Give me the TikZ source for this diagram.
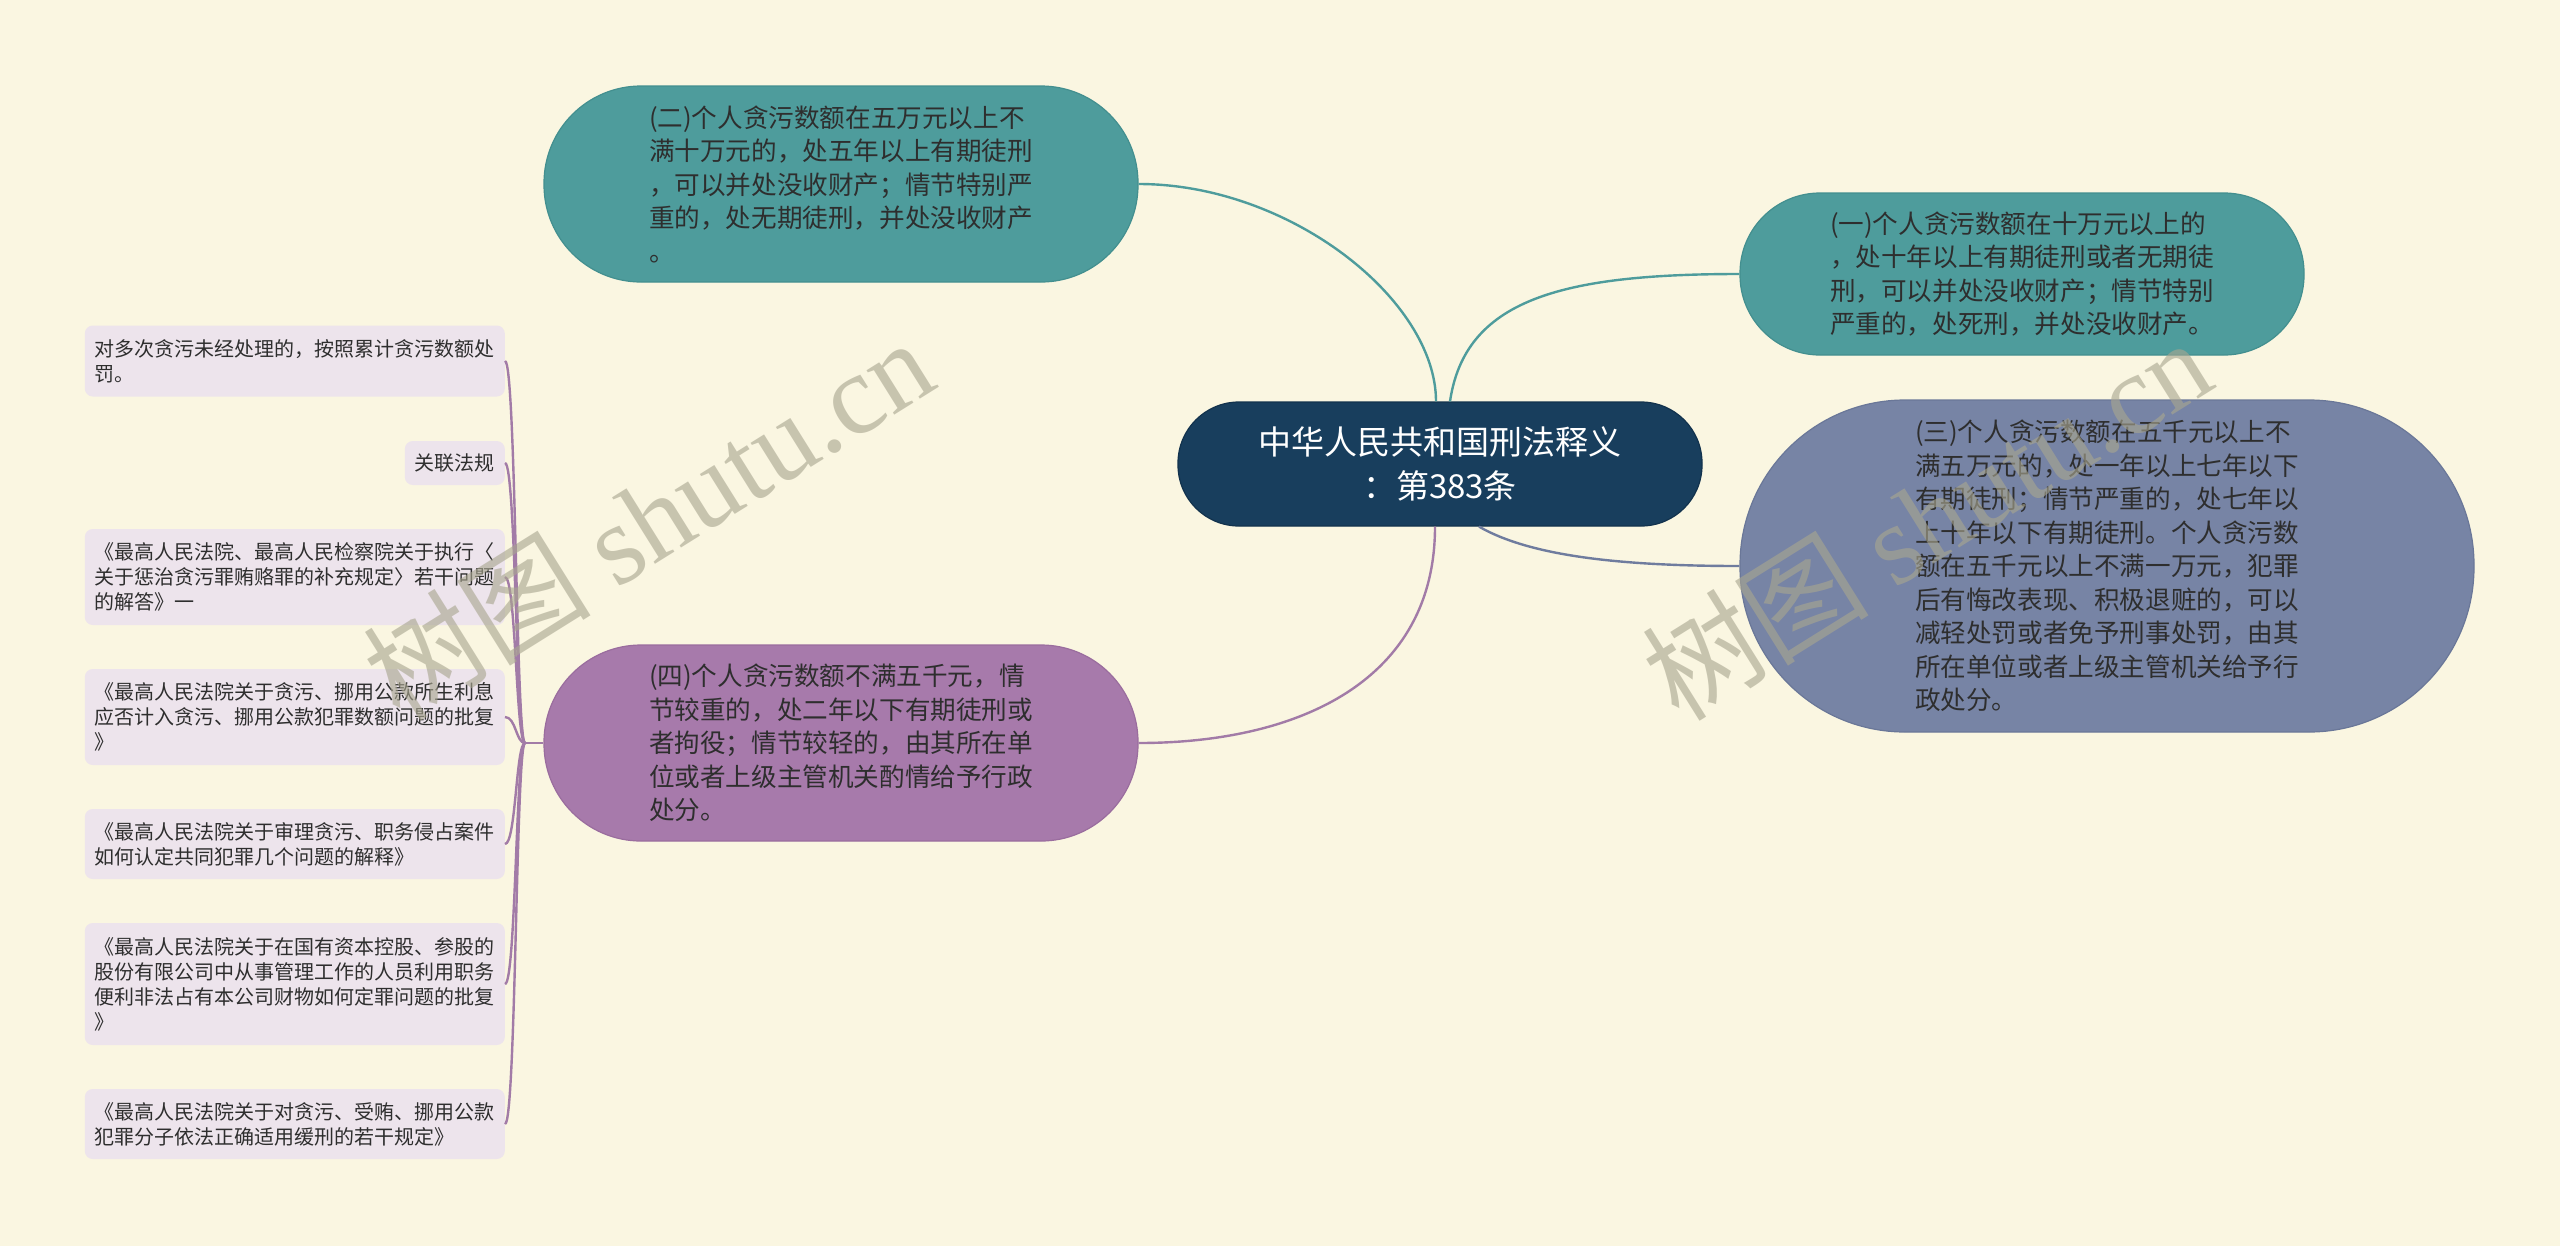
\documentclass[tikz,border=0pt]{standalone}
\usepackage{fontspec}
\setmainfont{Noto Sans CJK SC}
\newfontfamily\cjk{Noto Sans CJK SC}
\newfontfamily\wmlatin{Liberation Serif}
\usetikzlibrary{calc}
\definecolor{bgc}{HTML}{FAF6E1}
\definecolor{tealc}{HTML}{4E9C9C}
\definecolor{tealb}{HTML}{438F8F}
\definecolor{navyc}{HTML}{183E5D}
\definecolor{navyb}{HTML}{12324D}
\definecolor{slatec}{HTML}{7784A5}
\definecolor{slateb}{HTML}{6A7798}
\definecolor{purpc}{HTML}{A77AAB}
\definecolor{purpb}{HTML}{9A6D9E}
\definecolor{leafc}{HTML}{EDE4EC}
\definecolor{txtc}{HTML}{2E2E2E}
\definecolor{slateline}{HTML}{6F7C9E}
\definecolor{purpline}{HTML}{A27BA7}
\definecolor{wmc}{HTML}{A9A690}
\newcommand\mysubfont{\cjk\fontsize{25.6bp}{33.5bp}\selectfont}
\newcommand\myleaffont{\cjk\fontsize{20bp}{25bp}\selectfont}
\newcommand\mycenterfont{\cjk\fontsize{33bp}{44bp}\selectfont}
\newcommand\mywmfont{\cjk\fontsize{114bp}{120bp}\selectfont}
\begin{document}
\begin{tikzpicture}[x=1bp,y=-1bp,
  pill/.style={rounded corners=#1, draw, line width=1.2bp, inner sep=0pt, align=left, text=txtc, font=\mysubfont},
  leaf/.style={rounded corners=8bp, fill=leafc, inner xsep=10bp, inner ysep=0pt, align=left, text=txtc, font=\myleaffont, anchor=east},
  conn/.style={line width=2.4bp},
  wm/.style={rotate=32, text=wmc, opacity=0.62}
]
\fill[bgc] (0,0) rectangle (2560,1246);
\useasboundingbox (0,0) rectangle (2560,1246);

% main nodes
\node[pill=61bp, fill=navyc, draw=navyb, minimum width=524bp, minimum height=124bp, align=center, text=white, font=\mycenterfont] (c) at (1440,464) {中华人民共和国刑法释义\\：第383条};

\node[pill=97bp, fill=tealc, draw=tealb, minimum width=594bp, minimum height=196bp] (n2) at (841,184) {(二)个人贪污数额在五万元以上不\\满十万元的，处五年以上有期徒刑\\，可以并处没收财产；情节特别严\\重的，处无期徒刑，并处没收财产\\。};

\node[pill=80bp, fill=tealc, draw=tealb, minimum width=564bp, minimum height=162bp] (n1) at (2022,274) {(一)个人贪污数额在十万元以上的\\，处十年以上有期徒刑或者无期徒\\刑，可以并处没收财产；情节特别\\严重的，处死刑，并处没收财产。};

\node[pill=165bp, fill=slatec, draw=slateb, minimum width=734bp, minimum height=332bp] (n3) at (2107,566) {(三)个人贪污数额在五千元以上不\\满五万元的，处一年以上七年以下\\有期徒刑；情节严重的，处七年以\\上十年以下有期徒刑。个人贪污数\\额在五千元以上不满一万元，犯罪\\后有悔改表现、积极退赃的，可以\\减轻处罚或者免予刑事处罚，由其\\所在单位或者上级主管机关给予行\\政处分。};

\node[pill=97bp, fill=purpc, draw=purpb, minimum width=594bp, minimum height=196bp] (n4) at (841,743) {(四)个人贪污数额不满五千元，情\\节较重的，处二年以下有期徒刑或\\者拘役；情节较轻的，由其所在单\\位或者上级主管机关酌情给予行政\\处分。};

% leaves
\node[leaf, minimum height=71bp] (l1) at (505,361) {对多次贪污未经处理的，按照累计贪污数额处\\罚。};
\node[leaf, minimum height=44bp] (l2) at (505,463) {关联法规};
\node[leaf, minimum height=96bp] (l3) at (505,577) {《最高人民法院、最高人民检察院关于执行〈\\关于惩治贪污罪贿赂罪的补充规定〉若干问题\\的解答》一};
\node[leaf, minimum height=96bp] (l4) at (505,717) {《最高人民法院关于贪污、挪用公款所生利息\\应否计入贪污、挪用公款犯罪数额问题的批复\\》};
\node[leaf, minimum height=70bp] (l5) at (505,844) {《最高人民法院关于审理贪污、职务侵占案件\\如何认定共同犯罪几个问题的解释》};
\node[leaf, minimum height=122bp] (l6) at (505,984) {《最高人民法院关于在国有资本控股、参股的\\股份有限公司中从事管理工作的人员利用职务\\便利非法占有本公司财物如何定罪问题的批复\\》};
\node[leaf, minimum height=70bp] (l7) at (505,1124) {《最高人民法院关于对贪污、受贿、挪用公款\\犯罪分子依法正确适用缓刑的若干规定》};

% connectors from centre
\draw[conn, tealc] ([xshift=-4bp]c.north) .. controls (1436,300) and (1290,184) .. (n2.east);
\draw[conn, tealc] ([xshift=10bp]c.north) .. controls (1465,300) and (1560,274) .. (n1.west);
\draw[conn, slateline] ([xshift=39bp]c.south) .. controls (1530,556) and (1620,566) .. (n3.west);
\draw[conn, purpline] ([xshift=-5bp]c.south) .. controls (1435,680) and (1300,743) .. (n4.east);

% leaf bracket
\coordinate (j) at (525,743);
\draw[conn, purpline] (n4.west) -- (j);
\foreach \l in {l1,l2,l3,l4,l5,l6,l7}{
  \draw[conn, purpline] (j) .. controls (516,743) and ($(\l.east)+(11,0)$) .. (\l.east);
}

% watermarks
\node[wm, font=\mywmfont] (wm1) at (648,518) {树图 {\wmlatin shutu.cn}};
\node[wm, font=\mywmfont] (wm2) at (1926,518) {树图 {\wmlatin shutu.cn}};
\end{tikzpicture}
\end{document}
